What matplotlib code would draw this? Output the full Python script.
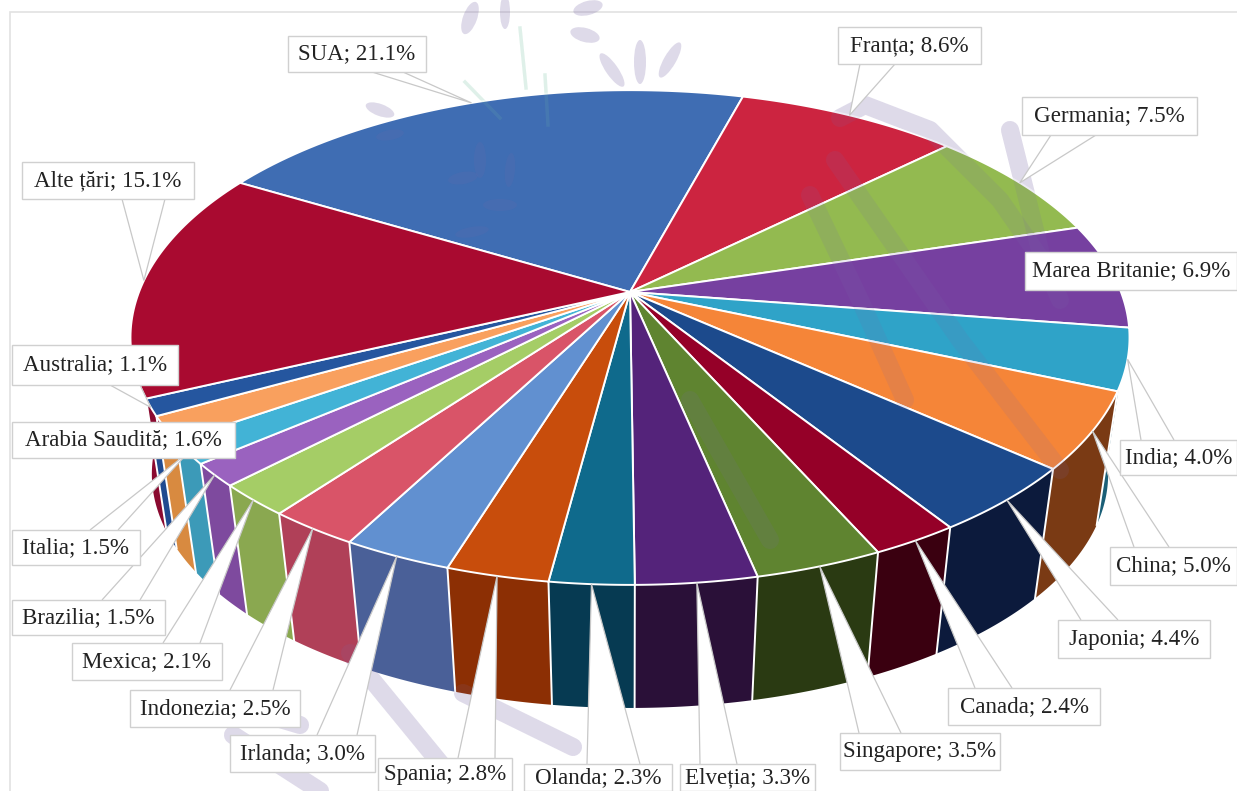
import numpy as np
import matplotlib
matplotlib.use("Agg")
import matplotlib.pyplot as plt
from matplotlib.patches import Polygon, Rectangle, Ellipse

plt.rcParams['font.family'] = ['Liberation Serif', 'DejaVu Serif']

# cota pe tari, in sensul acelor de ceasornic
tari = ['SUA', 'Franța', 'Germania', 'Marea Britanie', 'India', 'China', 'Japonia',
        'Canada', 'Singapore', 'Elveția', 'Olanda', 'Spania', 'Irlanda', 'Indonezia',
        'Mexica', 'Brazilia', 'Italia', 'Arabia Saudită', 'Australia', 'Alte țări']
cote = [21.1, 8.6, 7.5, 6.9, 4.0, 5.0, 4.4, 2.4, 3.5, 3.3,
        2.3, 2.8, 3.0, 2.5, 2.1, 1.5, 1.5, 1.6, 1.1, 15.1]
culori = ['#3f6db3', '#cc2440', '#93ba50', '#7640a0', '#2fa3c8', '#f58538', '#1c4a8c',
          '#950028', '#5f8430', '#54237a', '#0f6a8c', '#c84d0c', '#6190d0', '#d95468',
          '#a5cd66', '#9a62bf', '#42b3d6', '#f9a05e', '#25569f', '#a90a30']
laterale = ['#2a4a80', '#8a1830', '#6a8a3a', '#50306e', '#1b5f77', '#7a3a14', '#0c1a3c',
            '#3a0010', '#2a3a12', '#2a1038', '#063a52', '#8c2f04', '#4a6098', '#b04058',
            '#8aa850', '#7e4a9e', '#3c9ab8', '#d88a40', '#1f4a90', '#8a0a30']

# eticheta: cutie (x0, y0, x1, y1) si baza sagetii (xa, xb, y)
cutii = [(288, 36, 426, 72), (838, 27, 981, 64), (1022, 97, 1197, 135), (1025, 252, 1237, 290),
         (1120, 440, 1237, 475), (1110, 547, 1237, 585), (1058, 620, 1210, 658),
         (948, 688, 1100, 725), (840, 733, 1000, 770), (680, 764, 815, 791),
         (524, 764, 672, 791), (378, 758, 512, 791), (230, 735, 375, 772),
         (130, 690, 300, 727), (72, 643, 222, 680), (12, 600, 165, 635),
         (12, 530, 140, 565), (12, 422, 235, 458), (12, 345, 178, 385), (22, 162, 194, 199)]
baze = [(372, 403, 72), (860, 895, 64), (1051, 1096, 135), None,
        (1141, 1174, 440), (1134, 1169, 547), (1081, 1118, 620),
        (975, 1012, 688), (859, 901, 733), (700, 737, 764),
        (587, 640, 764), (458, 495, 758), (317, 357, 735),
        (230, 273, 690), (163, 200, 643), (102, 140, 600),
        (90, 118, 530), None, (110, 140, 385), (122, 165, 199)]

# urme de filigran (x, y in pixeli)
urme = [[(840, 118), (865, 105), (930, 130), (1000, 200), (1045, 265), (1060, 300)],
        [(835, 160), (960, 340), (1060, 470)],
        [(810, 195), (860, 300), (905, 400)],
        [(690, 400), (770, 540)],
        [(233, 735), (320, 791)],
        [(250, 710), (300, 725)],
        [(350, 653), (463, 791)],
        [(463, 693), (573, 747)],
        [(1010, 130), (1040, 250)]]
frunze = [(470, 18, 14, 34, 20), (505, 12, 10, 34, 0), (588, 8, 30, 14, -15), (585, 35, 30, 14, 15),
          (640, 62, 12, 44, 0), (612, 70, 12, 40, -35), (670, 60, 12, 40, 30),
          (380, 110, 30, 12, 20), (390, 135, 28, 10, -10), (480, 160, 12, 36, 0),
          (463, 178, 30, 12, -10), (500, 205, 34, 12, 0), (510, 170, 10, 34, 5),
          (472, 232, 34, 10, -10)]
tulpini = [[(520, 28), (526, 88)], [(465, 82), (500, 118)], [(545, 75), (548, 125)]]

cx, cy = 630, 292       # apexul
a, b, k = 491, 239, 0.184
a2, b2, yb = 470, 226, 431
start = -60.1


def top(th):
    u, v = np.sin(th), np.cos(th)
    w = 1 + k * v
    return cx + a * u / w, cy - b * v / w


def bottom(th):
    u, v = np.sin(th), np.cos(th)
    w = 1 + k * v
    return cx + a2 * u / w, yb - b2 * v / w


def filigran(alpha, z):
    for u in urme:
        p = np.array(u)
        ax.plot(p[:, 0], p[:, 1], color='#7a68a8', alpha=alpha, lw=13, solid_capstyle='round',
                solid_joinstyle='round', zorder=z)
    for x, y, w, h, r in frunze:
        ax.add_patch(Ellipse((x, y), w, h, angle=r, fc='#7a68a8', ec='none', alpha=alpha, zorder=z))
    for u in tulpini:
        p = np.array(u)
        ax.plot(p[:, 0], p[:, 1], color='#7cc8a8', alpha=alpha, lw=2.5, zorder=z)


fig = plt.figure(figsize=(12.37, 7.91), dpi=100)
ax = fig.add_axes([0, 0, 1, 1])
ax.set_xlim(0, 1237)
ax.set_ylim(791, 0)
ax.axis('off')

ax.add_patch(Rectangle((10, 12), 1300, 900, fc='white', ec='#e2e2e2', lw=1.2, zorder=0))
filigran(0.13, 1)

valori = np.array(cote)
unghiuri = np.radians(start + np.concatenate([[0], np.cumsum(valori)]) / valori.sum() * 360)

# peretii laterali, apoi fata de sus
for i in range(len(tari)):
    th = np.linspace(unghiuri[i], unghiuri[i + 1], 60)
    xs, ys = top(th)
    xb, yb_ = bottom(th)
    pts = np.column_stack([np.r_[xs, xb[::-1]], np.r_[ys, yb_[::-1]]])
    ax.add_patch(Polygon(pts, fc=laterale[i], ec='none', zorder=2))
    if np.cos(unghiuri[i]) < 0.15:
        ax.plot([xs[0], xb[0]], [ys[0], yb_[0]], color='white', lw=1.4, zorder=3)

for i in range(len(tari)):
    th = np.linspace(unghiuri[i], unghiuri[i + 1], 60)
    xs, ys = top(th)
    pts = np.column_stack([np.r_[cx, xs], np.r_[cy, ys]])
    ax.add_patch(Polygon(pts, fc=culori[i], ec='white', lw=1.4, zorder=4))

# filigranul se vede mai slab peste placinta
filigran(0.13, 5)

# etichete cu sageti
for i, nume in enumerate(tari):
    x0, y0, x1, y1 = cutii[i]
    if baze[i] is not None:
        xa, xb_, yl = baze[i]
        mid = (unghiuri[i] + unghiuri[i + 1]) / 2
        tx, ty = top(mid)
        ax.add_patch(Polygon([(xa, yl), (tx, ty), (xb_, yl)], closed=False, fc='white',
                             ec='#c8c8c8', lw=0.9, zorder=6))
    ax.add_patch(Rectangle((x0, y0), x1 - x0, y1 - y0, fc='white', ec='#d0d0d0', lw=1.0, zorder=7))
    ax.text((x0 + x1) / 2, (y0 + y1) / 2, f'{nume}; {cote[i]:.1f}%', ha='center', va='center',
            fontsize=16.6, color='#222222', zorder=8, clip_on=True)

fig.savefig('out.png', dpi=100)
